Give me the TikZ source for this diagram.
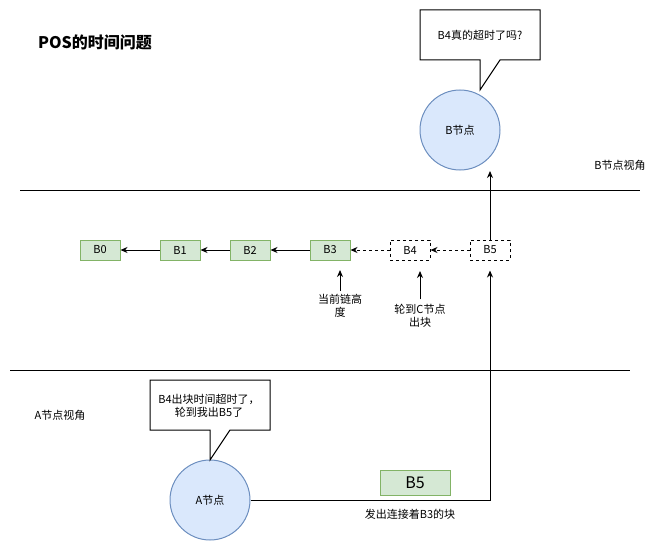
\documentclass[tikz,border=0pt]{standalone}
\usepackage{fontspec}
\setmainfont{Noto Sans CJK SC}
\usetikzlibrary{arrows.meta}
\definecolor{blockfill}{HTML}{D5E8D4}
\definecolor{blockline}{HTML}{82B366}
\definecolor{peerfill}{HTML}{DAE8FC}
\definecolor{peerline}{HTML}{6C8EBF}
\begin{document}
\begin{tikzpicture}[x=1pt, y=-1pt, line width=1pt,
  txt/.style={inner sep=0pt, align=center, font=\fontsize{11}{13}\selectfont},
  block/.style={draw=blockline, fill=blockfill, minimum width=40pt, minimum height=20pt,
    inner sep=0pt, font=\fontsize{11}{13}\selectfont},
  pending/.style={draw=black, fill=white, dash pattern=on 3pt off 3pt, minimum width=40pt,
    minimum height=20pt, inner sep=0pt, font=\fontsize{11}{13}\selectfont},
  peer/.style={circle, draw=peerline, fill=peerfill, minimum size=80pt, inner sep=0pt,
    font=\fontsize{11}{13}\selectfont},
  bubble/.style={draw=black, fill=white, line join=miter},
  link/.style={-{Stealth[length=7pt, width=6pt]}},
  dlink/.style={link, dash pattern=on 3pt off 3pt}
]
\useasboundingbox (0,0) rectangle (661,551);

% title
\node[inner sep=0pt, font=\fontsize{16}{18}\selectfont\bfseries] (title) at (95,42) {POS的时间问题};

% view separators
\draw (20,190) -- (640,190);
\draw (10,370) -- (630,370);
\node[txt] (viewB) at (620,165) {B节点视角};
\node[txt] (viewA) at (60,415) {A节点视角};

% peers
\node[peer] (peerB) at (460,130) {B节点};
\node[peer] (peerA) at (210,500) {A节点};

% speech bubbles
\draw[bubble] (420,10) -- (540,10) -- (540,60) -- (500,60) -- (480,90) -- (480,60) -- (420,60) -- cycle;
\node[txt] (askB) at (480,35) {B4真的超时了吗?};
\draw[bubble] (150,380) -- (270,380) -- (270,430) -- (230,430) -- (210,460) -- (210,430) -- (150,430) -- cycle;
\node[txt] (sayA) at (209,406) {B4出块时间超时了，\\轮到我出B5了};

% chain
\node[block] (B0) at (100,250) {B0};
\node[block] (B1) at (180,250) {B1};
\node[block] (B2) at (250,250) {B2};
\node[block] (B3) at (330,250) {B3};
\node[pending] (B4) at (410,250) {B4};
\node[pending] (B5) at (490,250) {B5};
\draw[link] (B1) -- (B0);
\draw[link] (B2) -- (B1);
\draw[link] (B3) -- (B2);
\draw[dlink] (B4) -- (B3);
\draw[dlink] (B5) -- (B4);

% notes under the chain
\node[txt] (height) at (340,306) {当前链高\\度};
\coordinate (heightTip) at (340,270);
\draw[link, shorten <=3pt] (height.north) -- (heightTip);
\node[txt] (turnC) at (420,315.5) {轮到C节点\\出块};
\coordinate (turnTip) at (420,271);
\draw[link, shorten <=4pt] (turnC.north) -- (turnTip);

% block broadcast by A
\node[block, minimum width=70pt, minimum height=25pt, font=\fontsize{16}{18}\selectfont] (newB5) at (415,482.5) {B5};
\node[txt] (sent) at (410,514) {发出连接着B3的块};
\draw[link] (peerA) -- (peerA -| B5) -- ([yshift=-10pt]B5.south);
\coordinate (peerBTip) at (490,171);
\draw[link] (B5.north) -- (peerBTip);
\end{tikzpicture}
\end{document}
